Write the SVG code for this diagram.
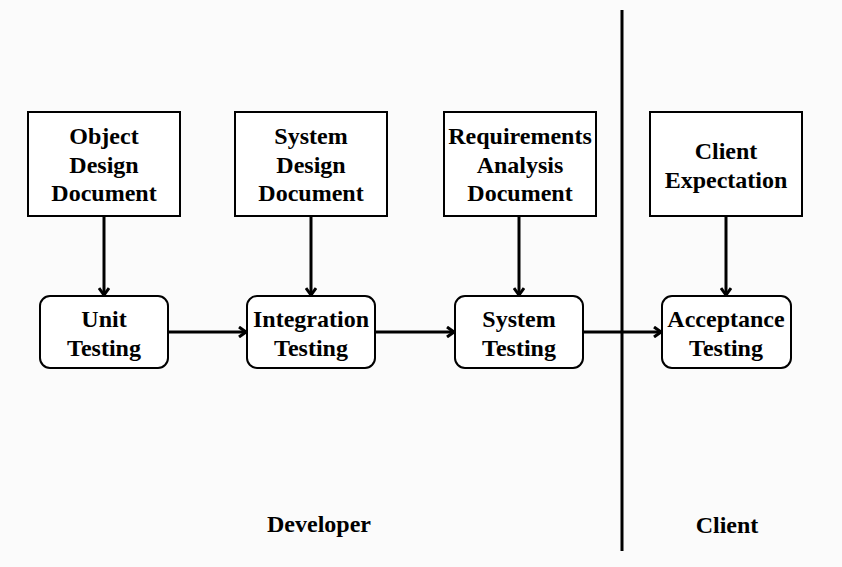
<svg xmlns="http://www.w3.org/2000/svg" width="842" height="567" viewBox="0 0 842 567">
<defs>
<marker id="arr" markerWidth="12" markerHeight="12" refX="10" refY="6" orient="auto" markerUnits="userSpaceOnUse">
<polyline points="3,1 10,6 3,11" fill="none" stroke="#000" stroke-width="3" stroke-linejoin="miter"/>
</marker>
<style>
.box{fill:#fff;stroke:#000;stroke-width:2}
.t{font-family:"Liberation Serif","Times New Roman",serif;font-weight:bold;font-size:24px;text-anchor:middle;fill:#000}
.c{stroke:#000;stroke-width:3;fill:none;marker-end:url(#arr)}
</style>
</defs>
<rect width="842" height="567" fill="#fbfbfb"/>
<g id="doc-object">
<rect class="box" x="28" y="112" width="152" height="104"/>
<text class="t" x="104" y="144">Object</text>
<text class="t" x="104" y="173">Design</text>
<text class="t" x="104" y="201">Document</text>
</g>
<g id="doc-system">
<rect class="box" x="235" y="112" width="152" height="104"/>
<text class="t" x="311" y="144">System</text>
<text class="t" x="311" y="173">Design</text>
<text class="t" x="311" y="201">Document</text>
</g>
<g id="doc-req">
<rect class="box" x="444" y="112" width="152" height="104"/>
<text class="t" x="520" y="144">Requirements</text>
<text class="t" x="520" y="173">Analysis</text>
<text class="t" x="520" y="201">Document</text>
</g>
<g id="doc-client">
<rect class="box" x="650" y="112" width="152" height="104"/>
<text class="t" x="726" y="159">Client</text>
<text class="t" x="726" y="188">Expectation</text>
</g>
<g id="unit">
<rect class="box" x="40" y="296" width="128" height="72" rx="10"/>
<text class="t" x="104" y="327">Unit</text>
<text class="t" x="104" y="356">Testing</text>
</g>
<g id="integration">
<rect class="box" x="247" y="296" width="128" height="72" rx="10"/>
<text class="t" x="311" y="327">Integration</text>
<text class="t" x="311" y="356">Testing</text>
</g>
<g id="system">
<rect class="box" x="455" y="296" width="128" height="72" rx="10"/>
<text class="t" x="519" y="327">System</text>
<text class="t" x="519" y="356">Testing</text>
</g>
<g id="acceptance">
<rect class="box" x="662" y="296" width="129" height="72" rx="10"/>
<text class="t" x="726" y="327">Acceptance</text>
<text class="t" x="726" y="356">Testing</text>
</g>
<g id="labels">
<text class="t" x="319" y="532">Developer</text>
<text class="t" x="727" y="533">Client</text>
</g>
<g id="connectors">
<line x1="622" y1="10" x2="622" y2="551" stroke="#000" stroke-width="3"/>
<line class="c" x1="104" y1="216" x2="104" y2="295"/>
<line class="c" x1="311" y1="216" x2="311" y2="295"/>
<line class="c" x1="519" y1="216" x2="519" y2="295"/>
<line class="c" x1="726" y1="216" x2="726" y2="295"/>
<line class="c" x1="168" y1="332" x2="246" y2="332"/>
<line class="c" x1="375" y1="332" x2="454" y2="332"/>
<line class="c" x1="583" y1="332" x2="661" y2="332"/>
</g>
</svg>
